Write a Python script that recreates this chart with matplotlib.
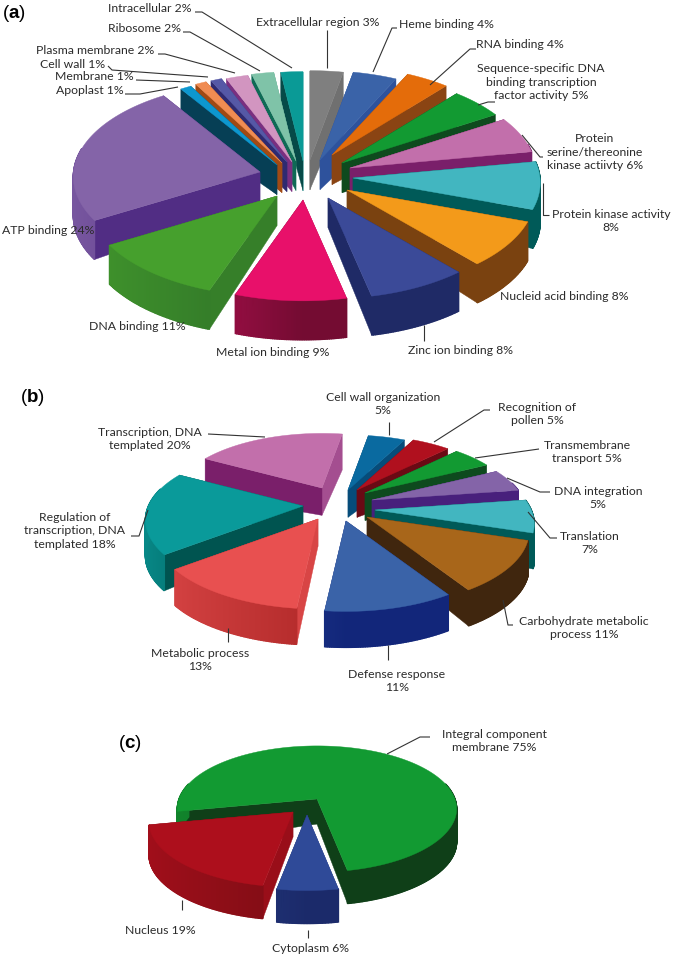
import numpy as np
import matplotlib
matplotlib.use("Agg")
import matplotlib.pyplot as plt
from matplotlib.colors import to_rgb

plt.rcParams["font.family"] = ["Lato", "DejaVu Sans"]
plt.rcParams["mathtext.fontset"] = "custom"
plt.rcParams["mathtext.bf"] = "Liberation Sans:bold"
plt.rcParams["mathtext.rm"] = "Liberation Sans"

# ----------- data -----------

# panel a, clockwise from the top
labels_a = ["Extracellular region 3%", "Heme binding 4%", "RNA binding 4%",
            "Sequence-specific DNA\nbinding transcription\nfactor activity 5%",
            "Protein\nserine/thereonine\nkinase actiivty 6%",
            "Protein kinase activity\n8%", "Nucleid acid binding 8%",
            "Zinc ion binding 8%", "Metal ion binding 9%", "DNA binding 11%",
            "ATP binding 24%", "Apoplast 1%", "Membrane 1%", "Cell wall 1%",
            "Plasma membrane 2%", "Ribosome 2%", "Intracellular 2%"]
values_a = [3, 4, 4, 5, 6, 8, 8, 8, 9, 11, 24, 1, 1, 1, 2, 2, 2]

# panel b
labels_b = ["Cell wall organization\n5%", "Recognition of\npollen 5%",
            "Transmembrane\ntransport 5%", "DNA integration\n5%",
            "Translation\n7%", "Carbohydrate metabolic\nprocess 11%",
            "Defense response\n11%", "Metabolic process\n13%",
            "Regulation of\ntranscription, DNA\ntemplated 18%",
            "Transcription, DNA\ntemplated 20%"]
values_b = [5, 5, 5, 5, 7, 11, 11, 13, 18, 20]

# panel c
labels_c = ["Integral component\nmembrane 75%", "Cytoplasm 6%", "Nucleus 19%"]
values_c = [75, 6, 19]

# ----------- styles and layout -----------

top_a = ["#7f7f7f", "#3a63a8", "#e46c0a", "#129a32", "#c26fab", "#42b6c0",
         "#f39a1a", "#3b4a98", "#e8106a", "#46a02d", "#8464a8", "#0d97cf",
         "#f08c52", "#5558a6", "#d295c0", "#7fc3a8", "#0a9a96"]
side_a = ["#5e5e5e", "#2c4f9a", "#8a4413", "#0e4a1e", "#7a1f6a", "#005a58",
          "#7a4210", "#1f2a66", "#740c32", "#2f7228", "#512d84", "#063f55",
          "#a04a14", "#2f2a70", "#7a2f80", "#0f6a55", "#064a48"]
top_b = ["#0a6aa0", "#b0101e", "#129a32", "#8464a8", "#42b6c0", "#a8661a",
         "#3a63a8", "#e85050", "#0a9a9a", "#c26fab"]
side_b = ["#064a78", "#6a0a14", "#0e4a1e", "#48207c", "#005a58", "#40260e",
          "#12267a", "#b22a2a", "#005450", "#7a1f6a"]
top_c = ["#129a32", "#2f4a98", "#ad0f1c"]
side_c = ["#0f3f18", "#1b2a6a", "#7f0d15"]

# how far each slice is pulled out of the pie, in pixels
shift_a = [(-2, -18), (8, -18), (20, -23), (30, -15), (38, -10), (41, 0),
           (35, 12), (16, 20), (-9, 22), (-35, 18), (-52, -6), (-35, -13),
           (-30, -15), (-25, -16), (-20, -16), (-16, -17), (-9, -17)]
shift_b = [(3, -17), (12, -17), (20, -14), (27, -7), (30, 3), (22, 10),
           (1, 14), (-27, 12), (-42, -1), (-23, -19)]
shift_c = [(7, -6), (-3, 10), (-17, 7)]

# label centres
pos_a = [(318, 22), (446, 24), (520, 45), (541, 82), (595, 152), (611, 221),
         (564, 297), (460, 350), (273, 353), (137, 327), (48, 230), (90, 90),
         (94, 76), (73, 65), (95, 50), (145, 28), (150, 8)]
pos_b = [(383, 404), (537, 414), (587, 452), (598, 498), (590, 543), (584, 628),
         (397, 681), (200, 660), (75, 531), (150, 439)]
pos_c = [(494, 741), (310, 949), (160, 930)]

# leader lines
lines_a = [[(327, 30), (327, 68)], [(397, 28), (392, 28), (373, 72)],
           [(476, 49), (470, 49), (430, 85)], [(495, 102), (488, 102), (478, 105)],
           [(543, 157), (540, 157), (522, 135)], [(549, 215), (543, 215), (543, 183)],
           [(424, 325), (424, 341)],
           [(125, 94), (140, 94), (178, 87)], [(136, 80), (190, 82)],
           [(108, 66), (112, 70), (208, 77)], [(158, 54), (165, 54), (235, 73)],
           [(183, 32), (190, 32), (260, 71)], [(195, 12), (202, 12), (292, 68)]]
lines_b = [[(389, 422), (389, 435)], [(490, 410), (484, 410), (434, 442)],
           [(539, 449), (475, 458)], [(550, 492), (540, 492), (507, 478)],
           [(557, 538), (550, 538), (528, 512)], [(513, 625), (508, 625), (503, 600)],
           [(388, 645), (388, 660)], [(228, 628), (228, 642)],
           [(131, 536), (139, 536), (148, 510)], [(208, 434), (265, 437)]]
lines_c = [[(430, 737), (420, 737), (387, 754)], [(182, 900), (182, 910)],
           [(308, 930), (308, 938)]]


def blend(c1, c2, t):
    a = np.array(to_rgb(c1))
    b = np.array(to_rgb(c2))
    return tuple(a + (b - a) * t)


def draw_pie(ax, values, tops, sides, shifts, cx, cy, rx, ry, depth, start, persp):
    angles = start + np.cumsum([0] + list(values)) / sum(values) * 360

    # point of a slice on the top face, r=0 is the tip and r=1 the rim
    def project(dx, dy, theta, r=1.0):
        v = -np.cos(theta) * r
        u = np.sin(theta) * r
        scale = 1 + persp * (dy / ry + v)
        return (cx + dx + rx * u * scale, cy + dy + ry * v * scale)

    # paint from the back of the pie to the front
    mids = (angles[:-1] + angles[1:]) / 2
    order = np.argsort(-np.cos(np.radians(mids)))
    tip_h = depth * 0.76

    for i in order:
        dx, dy = shifts[i]
        th = np.radians(np.linspace(angles[i], angles[i + 1], max(int(angles[i + 1] - angles[i]), 2) * 2 + 1))
        rim = [project(dx, dy, t) for t in th]
        apex = project(dx, dy, 0, 0.0)

        # the two straight walls: a wall facing right and nearly along the
        # view catches more light, the one reaching lowest goes on last
        walls = [(rim[0], -np.cos(th[0]), th[0]), (rim[-1], np.cos(th[-1]), th[-1])]
        walls.sort(key=lambda w: w[0][1])
        for p, facing, t in walls:
            light = 0.0
            if facing > 0:
                light = max(0.0, 1 - abs(np.sin(t)) / 0.5) * 0.9
            ax.fill([apex[0], p[0], p[0], apex[0]],
                    [apex[1], p[1], p[1] + depth, apex[1] + tip_h],
                    color=blend(sides[i], tops[i], light), lw=0.3, zorder=2)

        # round wall, in strips so it can get lighter towards the left
        for j in range(len(rim) - 1):
            p, q = rim[j], rim[j + 1]
            if np.cos((th[j] + th[j + 1]) / 2) > 0.25:
                continue
            light = max(0.0, -np.sin(th[j])) * 0.75
            ax.fill([p[0], q[0], q[0], p[0]],
                    [p[1], q[1], q[1] + depth, p[1] + depth],
                    color=blend(sides[i], tops[i], light), lw=1.0, zorder=2)

        # top face
        xs = [apex[0]] + [p[0] for p in rim]
        ys = [apex[1]] + [p[1] for p in rim]
        ax.fill(xs, ys, color=tops[i], lw=0.3, zorder=2)


def draw_labels(ax, labels, pos, lines):
    for txt, (x, y) in zip(labels, pos):
        ax.text(x, y, txt, ha="center", va="center", fontsize=8.8,
                color="#2b2b2b", linespacing=1.3, zorder=4)
    for line in lines:
        ax.plot([p[0] for p in line], [p[1] for p in line], color="#333333",
                lw=0.8, zorder=3, solid_capstyle="butt")


# ----------- figure -----------

fig = plt.figure(figsize=(6.73, 9.59), dpi=100)
ax = fig.add_axes([0, 0, 1, 1])
ax.set_xlim(0, 673)
ax.set_ylim(959, 0)
ax.axis("off")

draw_pie(ax, values_a, top_a, side_a, shift_a, 312, 178, 187, 95, 39, 0, 0.05)
draw_pie(ax, values_b, top_b, side_b, shift_b, 345, 507, 155, 73, 36, 10, 0.20)
draw_pie(ax, values_c, top_c, side_c, shift_c, 310, 805, 140, 64, 33, 259, 0.156)

draw_labels(ax, labels_a, pos_a, lines_a)
draw_labels(ax, labels_b, pos_b, lines_b)
draw_labels(ax, labels_c, pos_c, lines_c)

# panel letters
for letter, x, y in [("a", 14, 14), ("b", 32, 397), ("c", 130, 744)]:
    ax.text(x, y, "($\\mathbf{" + letter + "}$)", ha="center", va="center",
            fontsize=13.5, family="Liberation Sans", color="black")

fig.savefig("out.png", dpi=100)
